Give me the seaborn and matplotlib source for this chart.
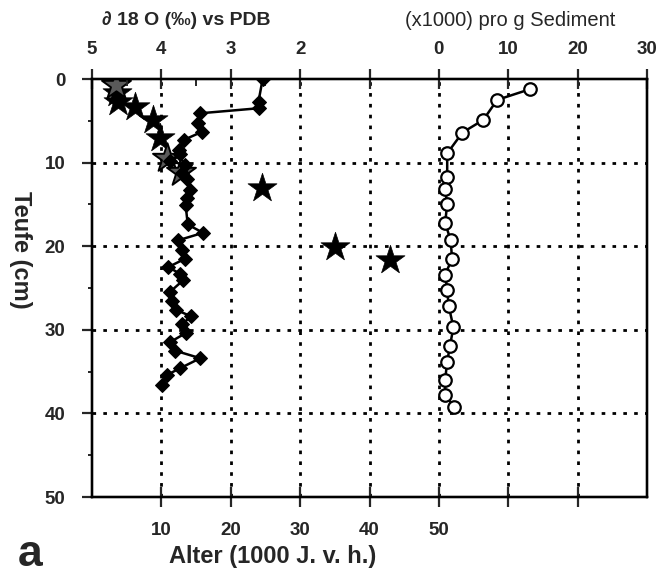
import matplotlib
matplotlib.use("Agg")
import matplotlib.pyplot as plt
import seaborn as sns
import numpy as np
import pandas as pd

# ---------------- data ----------------
# Ages (1000 J. v. h.) vs depth (cm), star symbols
star_depth = [0.7, 1.7, 2.7, 3.4, 4.95, 7.1, 9.5, 11.1, 13.0, 20.1, 21.7]
star_age = [3.5, 3.6, 3.8, 6.2, 8.8, 9.8, 10.8, 12.9, 24.5, 35.0, 43.0]
star_light = [True, False, False, False, False, False, True, True, False, False, False]

# delta 18 O (permil vs PDB) vs depth (cm)
d18o_depth = [0.0, 2.7, 3.5, 4.1, 5.3, 6.3, 7.3, 8.5, 9.0, 9.8, 10.3, 11.2, 12.0,
              13.3, 14.2, 15.1, 17.4, 18.4, 19.3, 20.5, 21.5, 22.5, 23.3, 24.1,
              25.5, 26.5, 27.6, 28.4, 29.3, 30.4, 31.5, 32.5, 33.4, 34.6, 35.4, 36.6]
d18o_value = [2.54, 2.60, 2.60, 3.44, 3.47, 3.41, 3.68, 3.74, 3.73, 3.88, 3.66, 3.70, 3.63,
              3.59, 3.63, 3.65, 3.62, 3.40, 3.76, 3.70, 3.66, 3.90, 3.73, 3.69,
              3.88, 3.85, 3.79, 3.57, 3.70, 3.65, 3.88, 3.80, 3.44, 3.73, 3.92, 3.99]

# counts (x1000) pro g Sediment vs depth (cm)
sed_depth = [1.2, 2.5, 4.9, 6.4, 8.9, 11.7, 13.2, 15.0, 17.2, 19.3, 21.5, 23.4,
             25.2, 27.1, 29.7, 31.9, 33.8, 36.0, 37.8, 39.2]
sed_value = [13.2, 8.4, 6.4, 3.4, 1.2, 1.2, 0.9, 1.2, 0.9, 1.7, 1.9, 0.9,
             1.2, 1.4, 2.1, 1.6, 1.2, 0.9, 0.9, 2.2]

age_ticks = [10, 20, 30, 40, 50, 60, 70]
age_labels = ["10", "20", "30", "40", "50", "", ""]
depth_ticks = [0, 10, 20, 30, 40, 50]
d18o_ticks = [5, 4, 3, 2]
sed_ticks = [-10, 0, 10, 20, 30]
sed_labels = ["", "0", "10", "20", "30"]

# ---------------- style ----------------
sns.set_style("white")
plt.rcParams["font.family"] = ["Liberation Sans", "DejaVu Sans"]
plt.rcParams["axes.linewidth"] = 1.6

fig = plt.figure(figsize=(6.56, 5.79), dpi=100)
ax = fig.add_axes([92 / 656, 1 - 497 / 579, 555 / 656, 418 / 579])
axd = ax.twiny()
axs = ax.twiny()

ax.set_xlim(0, 80)
ax.set_ylim(50, 0)
for a in (ax, axd, axs):
    for s in a.spines.values():
        s.set_color("black")
        s.set_linewidth(1.6)

# grid
grid_kw = dict(color="black", linestyle=(0, (1.3, 2.6)), linewidth=2.0)
ax.set_xticks(age_ticks)
ax.set_xticklabels(age_labels)
ax.set_yticks(depth_ticks)
ax.set_yticks([5, 15, 25, 35, 45], minor=True)
for xv in age_ticks:
    ax.axvline(xv, zorder=0.5, **grid_kw)
for yv in depth_ticks[1:-1]:
    ax.axhline(yv, zorder=0.5, **grid_kw)

ax.tick_params(axis="x", which="major", direction="inout", length=14, width=1.6,
               pad=11, labelsize=13.5, top=False, bottom=True)
ax.tick_params(axis="y", which="major", direction="out", length=7, width=1.6,
               pad=12, labelsize=13.5, right=False, left=True)
ax.tick_params(axis="y", which="minor", direction="out", length=3, width=1.4, left=True)
for lab in ax.get_xticklabels() + ax.get_yticklabels():
    lab.set_fontweight("bold")

# stars (age)
df_star = pd.DataFrame({"age": star_age, "depth": star_depth, "light": star_light})
sns.scatterplot(data=df_star[~df_star.light], x="age", y="depth", marker="*", s=480,
                color="black", edgecolor="black", linewidth=0.5, ax=ax, zorder=4, legend=False)
sns.scatterplot(data=df_star[df_star.light], x="age", y="depth", marker="*", s=480,
                color="#5a5a5a", edgecolor="black", linewidth=1.4, ax=ax, zorder=4, legend=False)

# delta 18 O
axd.set_xlim(5, -3)
df_d = pd.DataFrame({"d18o": d18o_value, "depth": d18o_depth})
sns.lineplot(data=df_d, x="d18o", y="depth", sort=False, estimator=None, orient="y",
             color="black", linewidth=1.8, marker="D", markersize=7,
             markeredgecolor="black", ax=axd, zorder=3)
axd.set_xticks(d18o_ticks)
axd.set_xticks([4.5, 3.5, 2.5], minor=True)
axd.tick_params(axis="x", which="major", direction="inout", length=14, width=1.6,
                pad=8, labelsize=13.5, top=True, bottom=False, labeltop=True, labelbottom=False)
axd.tick_params(axis="x", which="minor", direction="in", length=5, width=1.4, top=True, bottom=False)
for lab in axd.get_xticklabels():
    lab.set_fontweight("bold")

# sediment counts
axs.set_xlim(-50, 30)
df_s = pd.DataFrame({"count": sed_value, "depth": sed_depth})
sns.lineplot(data=df_s, x="count", y="depth", sort=False, estimator=None, orient="y",
             color="black", linewidth=1.8, marker="o", markersize=9,
             markerfacecolor="white", markeredgecolor="black", markeredgewidth=1.6,
             ax=axs, zorder=3)
axs.set_xticks(sed_ticks)
axs.set_xticklabels(sed_labels)
axs.tick_params(axis="x", which="major", direction="inout", length=14, width=1.6,
                pad=8, labelsize=13.5, top=True, bottom=False, labeltop=True, labelbottom=False)
for lab in axs.get_xticklabels():
    lab.set_fontweight("bold")

for a in (ax, axd, axs):
    a.set_xlabel("")
    a.set_ylabel("")
axd.set_ylim(50, 0)
axs.set_ylim(50, 0)

# labels
fig.text(186 / 656, 1 - 20 / 579, "\u2202 18 O (\u2030) vs PDB", ha="center", va="center",
         fontsize=14, fontweight="bold")
fig.text(510 / 656, 1 - 20 / 579, "(x1000) pro g Sediment", ha="center", va="center",
         fontsize=14.5)
fig.text(20 / 656, 1 - 250 / 579, "Teufe (cm)", ha="center", va="center", rotation=-90,
         fontsize=17, fontweight="bold")
fig.text(273 / 656, 1 - 557 / 579, "Alter (1000 J. v. h.)", ha="center", va="center",
         fontsize=17, fontweight="bold")
fig.text(30 / 656, 1 - 555 / 579, "a", ha="center", va="center",
         fontsize=32, fontweight="bold")

fig.savefig("out.png", dpi=100)
